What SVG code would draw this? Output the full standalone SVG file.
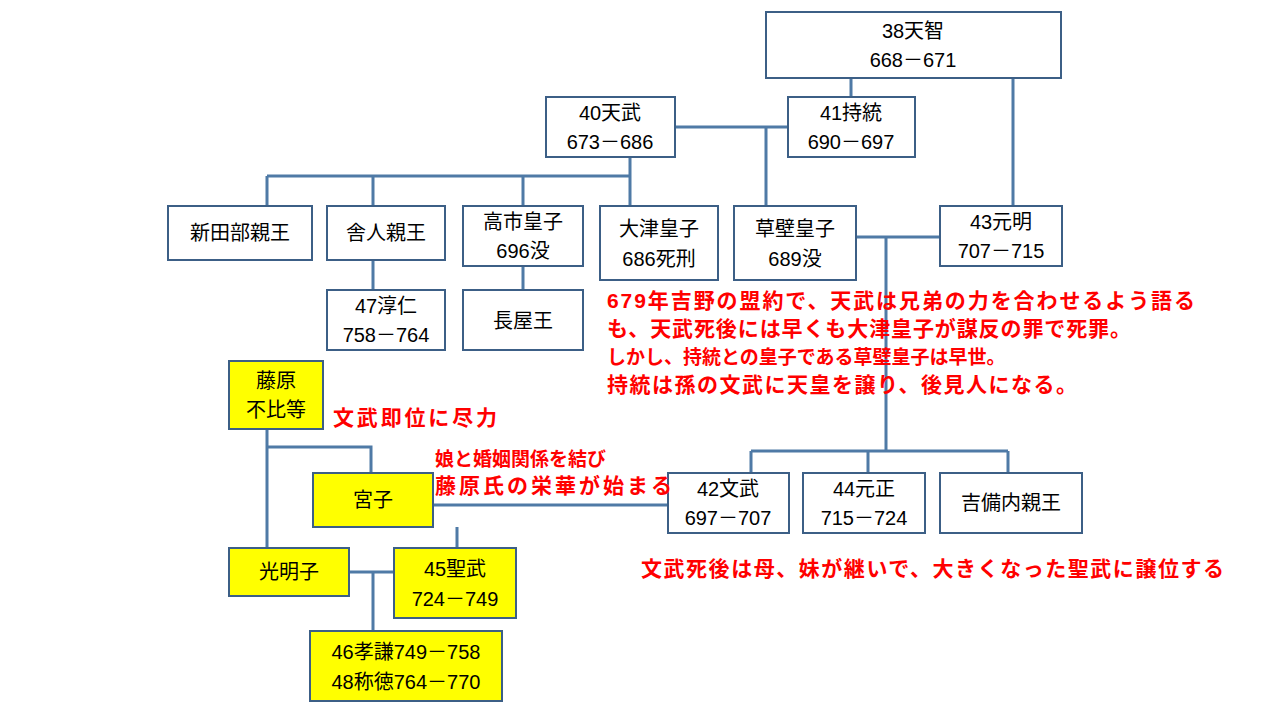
<svg xmlns="http://www.w3.org/2000/svg" width="1280" height="720" viewBox="0 0 1280 720">
<style>
.n rect{fill:#fff;stroke:#3c5f86;stroke-width:2}
.y rect{fill:#ffff00}
text{font-family:"Liberation Sans","Noto Sans CJK JP",sans-serif;font-size:20px;text-anchor:middle;fill:#000}
.r{fill:#ff0000;font-weight:bold;text-anchor:start;font-size:21px}
#c path{stroke:#4f7aa6;stroke-width:3;fill:none}
</style>
<rect width="1280" height="720" fill="#fff"/>
<g id="c">
<path d="M675 127H788M851 78V97M1013 78V206M766 127V206M630 157V176M267 176H630M267 176V206M373 176V206M523 176V206M630 176V206M373 260V290M523 266V290M856 237H940M886 237V451M751 451H1008M751 451V473M868 451V473M1008 451V473M267 429V548M267 447H371V473M433 505H668M457 527V548M349 572H394M373 572V631"/>
</g>
<g id="n38" class="n"><rect x="766" y="12" width="295" height="66"/><text x="913" y="38">38天智</text><text x="913" y="67">668－671</text></g>
<g id="n40" class="n"><rect x="546" y="97" width="129" height="60"/><text x="610" y="120">40天武</text><text x="610" y="149">673－686</text></g>
<g id="n41" class="n"><rect x="788" y="97" width="127" height="60"/><text x="851" y="120">41持統</text><text x="851" y="149">690－697</text></g>
<g id="n1" class="n"><rect x="168" y="206" width="144" height="54"/><text x="240" y="240">新田部親王</text></g>
<g id="n2" class="n"><rect x="327" y="206" width="118" height="54"/><text x="386" y="240">舎人親王</text></g>
<g id="n3" class="n"><rect x="463" y="206" width="120" height="60"/><text x="523" y="229">高市皇子</text><text x="523" y="258">696没</text></g>
<g id="n4" class="n"><rect x="600" y="206" width="118" height="74"/><text x="659" y="236">大津皇子</text><text x="659" y="266">686死刑</text></g>
<g id="n5" class="n"><rect x="734" y="206" width="122" height="74"/><text x="795" y="236">草壁皇子</text><text x="795" y="266">689没</text></g>
<g id="n43" class="n"><rect x="940" y="206" width="122" height="60"/><text x="1001" y="229">43元明</text><text x="1001" y="258">707－715</text></g>
<g id="n47" class="n"><rect x="327" y="290" width="118" height="60"/><text x="386" y="313">47淳仁</text><text x="386" y="342">758－764</text></g>
<g id="n6" class="n"><rect x="463" y="290" width="120" height="60"/><text x="523" y="328">長屋王</text></g>
<g id="n7" class="n y"><rect x="229" y="361" width="94" height="68"/><text x="276" y="388">藤原</text><text x="276" y="417">不比等</text></g>
<g id="n8" class="n y"><rect x="313" y="473" width="120" height="54"/><text x="373" y="507">宮子</text></g>
<g id="n42" class="n"><rect x="668" y="473" width="121" height="60"/><text x="728" y="496">42文武</text><text x="728" y="525">697－707</text></g>
<g id="n44" class="n"><rect x="803" y="473" width="122" height="60"/><text x="864" y="496">44元正</text><text x="864" y="525">715－724</text></g>
<g id="n9" class="n"><rect x="940" y="473" width="142" height="60"/><text x="1011" y="510">吉備内親王</text></g>
<g id="n10" class="n y"><rect x="229" y="548" width="120" height="48"/><text x="289" y="579">光明子</text></g>
<g id="n45" class="n y"><rect x="394" y="548" width="122" height="70"/><text x="455" y="576">45聖武</text><text x="455" y="606">724－749</text></g>
<g id="n46" class="n y"><rect x="310" y="631" width="192" height="70"/><text x="406" y="659">46孝謙749－758</text><text x="406" y="689">48称徳764－770</text></g>
<g id="notes">
<text class="r" x="607" y="308" textLength="588">679年吉野の盟約で、天武は兄弟の力を合わせるよう語る</text>
<text class="r" x="607" y="336" textLength="524">も、天武死後には早くも大津皇子が謀反の罪で死罪。</text>
<text class="r" x="607" y="364" style="font-size:19px">しかし、持統との皇子である草壁皇子は早世。</text>
<text class="r" x="607" y="392" textLength="470">持統は孫の文武に天皇を譲り、後見人になる。</text>
<text class="r" x="333" y="425" textLength="164">文武即位に尽力</text>
<text class="r" x="435" y="466" style="font-size:19px">娘と婚姻関係を結び</text>
<text class="r" x="435" y="493" textLength="237">藤原氏の栄華が始まる</text>
<text class="r" x="641" y="576" textLength="583">文武死後は母、妹が継いで、大きくなった聖武に譲位する</text>
</g>
</svg>
